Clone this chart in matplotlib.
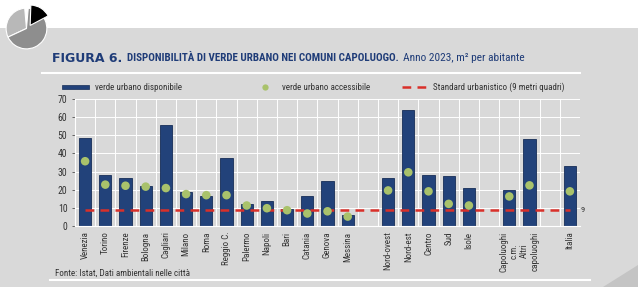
import matplotlib.pyplot as plt
from matplotlib.patches import Wedge, Rectangle, Polygon
from matplotlib.lines import Line2D
import numpy as np

plt.rcParams['font.family'] = ['Roboto Condensed', 'IBM Plex Sans Condensed', 'DejaVu Sans']

# data (m2 per inhabitant)
cities = ['Venezia', 'Torino', 'Firenze', 'Bologna', 'Cagliari', 'Milano', 'Roma',
          'Reggio C.', 'Palermo', 'Napoli', 'Bari', 'Catania', 'Genova', 'Messina']
cities_avail = [48.7, 28.0, 26.5, 21.9, 55.4, 18.7, 16.7, 37.6, 12.0, 13.9, 9.3, 16.5, 24.6, 6.3]
cities_access = [35.7, 22.8, 22.2, 21.7, 20.9, 17.6, 17.0, 17.0, 11.3, 9.8, 8.7, 6.9, 8.1, 5.2]

areas = ['Nord-ovest', 'Nord-est', 'Centro', 'Sud', 'Isole']
areas_avail = [26.5, 64.1, 28.0, 27.4, 20.9]
areas_access = [19.6, 29.6, 19.1, 12.2, 11.3]

types = ['Capoluoghi\nc.m.', 'Altri\ncapoluoghi']
types_avail = [20.0, 48.1]
types_access = [16.3, 22.4]

total = ['Italia']
total_avail = [33.3]
total_access = [19.1]

standard = 9

groups = [(cities, cities_avail, cities_access),
          (areas, areas_avail, areas_access),
          (types, types_avail, types_access),
          (total, total_avail, total_access)]

labels, avail, access, xpos = [], [], [], []
pos = 0
for names, av, ac in groups:
    for n, a, c in zip(names, av, ac):
        labels.append(n)
        avail.append(a)
        access.append(c)
        xpos.append(pos)
        pos += 1
    pos += 1
nslots = pos - 1

bg = '#d9d9d9'
navy = '#22427a'
green = '#a9c26b'
red = '#d9302a'
txtc = '#333333'

fig = plt.figure(figsize=(6.38, 2.87), dpi=100, facecolor=bg)

# white band on top + pie icon
fig.patches.append(Rectangle((0, 1 - 28 / 287), 1, 28 / 287, transform=fig.transFigure,
                             facecolor='white', edgecolor='none', zorder=0))
icon = fig.add_axes([0, 1 - 56 / 287, 55 / 638, 54 / 287], zorder=5)
icon.set_xlim(-1.3, 1.4)
icon.set_ylim(-1.35, 1.3)
icon.set_aspect('equal')
icon.axis('off')
icon.patch.set_alpha(0)
icon.add_patch(Wedge((0, 0), 1, 95, 205, facecolor='#b8b8b8', edgecolor='white', lw=0.8))
icon.add_patch(Wedge((0, 0), 1, 205, 445, facecolor='#8e8e8e', edgecolor='white', lw=0.8))
icon.add_patch(Wedge((0.18, 0.15), 1, 28, 88, facecolor='black', edgecolor='white', lw=0.8))

# bottom-right corner triangle
fig.patches.append(Polygon([(1, 0), (1, 22 / 287), (1 - 35 / 638, 0)], closed=True,
                           transform=fig.transFigure, facecolor='#c4c4c4', edgecolor='none'))

# title
fig.text(52 / 638, 1 - 58 / 287, 'FIGURA 6.', family=['DejaVu Sans'], fontweight='bold',
         fontsize=9.0, color='#1f3c78', va='center')
fig.text(127 / 638, 1 - 58 / 287, 'DISPONIBILITÀ DI VERDE URBANO NEI COMUNI CAPOLUOGO.',
         fontweight='bold', fontsize=7.9, color='#1f3c78', va='center')
fig.text(403 / 638, 1 - 58 / 287, 'Anno 2023, m² per abitante', fontsize=8.2,
         color='#1f3c78', va='center')
fig.add_artist(Line2D([42 / 638, 580 / 638], [1 - 73 / 287] * 2, color='white', lw=1.5))

# source + line
fig.text(55 / 638, 1 - 273 / 287, 'Fonte: Istat, Dati ambientali nelle città', fontsize=6.5,
         color=txtc, va='center')
fig.add_artist(Line2D([50 / 638, 590 / 638], [1 - 280 / 287] * 2, color='white', lw=1.5))

ax = fig.add_axes([75 / 638, 1 - 226 / 287, 505 / 638, 127 / 287])
ax.set_facecolor(bg)
ax.bar(xpos, avail, width=0.6, color=navy, edgecolor='#162d57', lw=0.6, zorder=2)
ax.scatter(xpos, access, s=38, color=green, zorder=4, edgecolors='none')
ax.hlines(standard, xpos[0], xpos[-1], colors=red, lw=1.8, linestyles=(0, (3.5, 2.5)), zorder=3)
ax.text(xpos[-1] + 0.55, standard, str(standard), fontsize=6, va='center', ha='left', color=txtc)

ax.set_xlim(-0.5, nslots - 0.5)
ax.set_ylim(0, 70)
ax.set_yticks(range(0, 71, 10))
ax.set_xticks(xpos)
ax.set_xticklabels(labels, rotation=90, fontsize=6.5, color=txtc, va='top', ha='center',
                   multialignment='center')
ax.tick_params(axis='y', labelsize=7, colors=txtc, length=2, width=0.5)
ax.tick_params(axis='x', length=0, pad=4)
for b in np.arange(-0.5, nslots, 1.0):
    ax.axvline(b, color='white', lw=0.7, zorder=1)
for yv in range(10, 71, 10):
    ax.axhline(yv, color='white', lw=0.7, zorder=1)
for s in ['top', 'right']:
    ax.spines[s].set_visible(False)
ax.spines['left'].set_color('white')
ax.spines['bottom'].set_color('white')

# legend drawn by hand at figure level
ly = 1 - 87 / 287
fig.add_artist(Rectangle((62 / 638, ly - 2 / 287), 27 / 638, 4 / 287, transform=fig.transFigure,
                         facecolor=navy, edgecolor='#162d57', lw=0.5))
fig.text(95 / 638, ly, 'verde urbano disponibile', fontsize=6.5, va='center', color=txtc)
fig.add_artist(Line2D([265 / 638], [ly], marker='o', markersize=4.5, color=green,
                      markeredgecolor='none', transform=fig.transFigure))
fig.text(282 / 638, ly, 'verde urbano accessibile', fontsize=6.5, va='center', color=txtc)
fig.add_artist(Line2D([402 / 638, 426 / 638], [ly, ly], color=red, lw=1.8,
                      linestyle=(0, (3.5, 2.5)), transform=fig.transFigure))
fig.text(433 / 638, ly, 'Standard urbanistico (9 metri quadri)', fontsize=6.5, va='center',
         color=txtc)

fig.savefig('out.png', dpi=100, facecolor=bg)
